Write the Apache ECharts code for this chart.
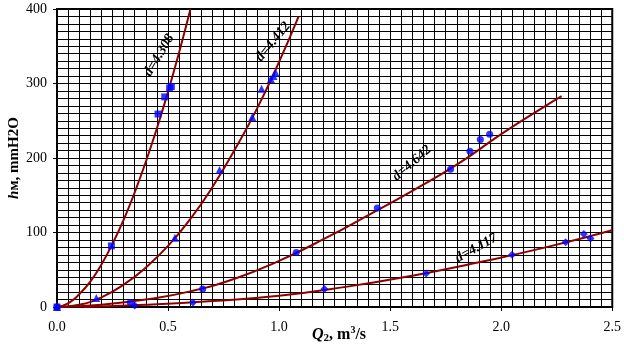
<!DOCTYPE html>
<html>
<head>
<meta charset="utf-8">
<script src="https://cdn.jsdelivr.net/npm/echarts@6/dist/echarts.min.js"></script>
<style>
  html, body { margin: 0; padding: 0; background: #fff; }
  #chart { width: 624px; height: 350px; }
</style>
</head>
<body>
<div id="chart"></div>
<script>
// Measured points (Q2 in m3/s, h in mmH2O) for four diameters
const measured1 = [[0, 0], [0.245, 82], [0.455, 259], [0.485, 282], [0.507, 294], [0.515, 296]];
const measured2 = [[0, 0], [0.177, 12], [0.531, 93], [0.732, 184], [0.879, 255], [0.921, 293], [0.963, 306], [0.975, 310], [0.985, 314]];
const measured3 = [[0, 0], [0.33, 6], [0.656, 24], [1.077, 73], [1.442, 133], [1.772, 185], [1.859, 209], [1.906, 225], [1.948, 232]];
const measured4 = [[0.35, 2], [0.612, 6], [1.204, 24], [1.662, 45], [2.049, 70], [2.29, 87], [2.372, 98], [2.402, 92]];

// Trend curves
const trend1 = [[0, 0], [0.05, 5], [0.1, 17], [0.15, 34], [0.2, 57], [0.25, 85], [0.3, 117], [0.35, 154], [0.4, 195], [0.45, 240], [0.5, 289], [0.55, 342], [0.601, 400]];
const trend2 = [[0, 0], [0.1, 3], [0.2, 13], [0.3, 30], [0.4, 53], [0.5, 82], [0.6, 118], [0.7, 161], [0.8, 211], [0.9, 266], [1.0, 329], [1.088, 390]];
const trend3 = [[0, 0], [0.2, 3], [0.4, 10], [0.6, 21], [0.8, 38], [1.0, 62], [1.2, 91], [1.4, 123], [1.6, 156], [1.8, 191], [2.0, 232], [2.2, 270], [2.272, 283]];
const trend4 = [[0.12, 0], [0.4, 3], [0.7, 8], [1.0, 15], [1.3, 27], [1.6, 42], [1.9, 60], [2.2, 80], [2.5, 103]];

const curveNames = ['d=4.308', 'd=4.412', 'd=4.642', 'd=4.117'];
// label anchor in data coords and text angle in degrees
const curveLabelPos = [[0.46, 338], [0.973, 356], [1.598, 193], [1.888, 79]];
const curveLabelAngle = [59, 51, 41, 29];

const xTicks = ['0.0', '0.5', '1.0', '1.5', '2.0', '2.5'];

const serif = '"Liberation Serif", "DejaVu Serif", serif';
const lineColor = '#8B0000';
const markColor = '#0000FF';

const chart = echarts.init(document.getElementById('chart'), null, { renderer: 'canvas' });

function trendSeries(data) {
  return {
    type: 'line', data: data, smooth: true, showSymbol: false, symbol: 'none',
    lineStyle: { color: lineColor, width: 2 }, z: 3, silent: true
  };
}
function markSeries(data, symbol, size) {
  return {
    type: 'scatter', data: data, symbol: symbol, symbolSize: size,
    itemStyle: { color: markColor }, z: 4, silent: true
  };
}

chart.setOption({
  animation: false,
  backgroundColor: '#fff',
  grid: {
    left: 57, right: 8, top: 9, bottom: 43,
    show: true, borderColor: '#000', borderWidth: 2, backgroundColor: 'transparent'
  },
  xAxis: {
    type: 'value', min: 0, max: 2.5, interval: 0.5,
    axisLine: { show: true, lineStyle: { color: '#000', width: 2 } },
    axisTick: { show: true, length: 4, inside: false, lineStyle: { color: '#000' } },
    axisLabel: {
      color: '#000', fontFamily: serif, fontSize: 14, margin: 13,
      formatter: function (v) { return xTicks[Math.round(v / 0.5)]; }
    },
    splitLine: { show: true, lineStyle: { color: '#000', width: 1 } },
    minorTick: { show: false, splitNumber: 10 },
    minorSplitLine: { show: true, lineStyle: { color: '#000', width: 1 } }
  },
  yAxis: {
    type: 'value', min: 0, max: 400, interval: 100,
    axisLine: { show: true, lineStyle: { color: '#000', width: 2 } },
    axisTick: { show: true, length: 4, inside: false, lineStyle: { color: '#000' } },
    axisLabel: { color: '#000', fontFamily: serif, fontSize: 14, margin: 10 },
    splitLine: { show: true, lineStyle: { color: '#000', width: 1 } },
    minorTick: { show: false, splitNumber: 10 },
    minorSplitLine: { show: true, lineStyle: { color: '#000', width: 1 } }
  },
  series: [
    trendSeries(trend1), trendSeries(trend2), trendSeries(trend3), trendSeries(trend4),
    markSeries(measured1, 'rect', 7),
    markSeries(measured2, 'triangle', 8),
    markSeries(measured3, 'circle', 7),
    markSeries(measured4, 'diamond', 8)
  ]
});

// Axis titles and rotated curve labels
const graphics = [
  {
    type: 'text', x: 312, y: 325, z: 10,
    style: {
      text: '{q|Q}{s|2}{n|, m}{p|3}{n|/s}',
      rich: {
        q: { fontFamily: serif, fontSize: 16, fontWeight: 'bold', fontStyle: 'italic', fill: '#000' },
        s: { fontFamily: serif, fontSize: 11, fontWeight: 'bold', fill: '#000', padding: [8, 0, 0, 0] },
        n: { fontFamily: serif, fontSize: 16, fontWeight: 'bold', fill: '#000' },
        p: { fontFamily: serif, fontSize: 10, fontWeight: 'bold', fill: '#000', padding: [0, 0, 8, 0] }
      }
    }
  },
  {
    type: 'text', x: 14, y: 158, rotation: Math.PI / 2, z: 10,
    style: {
      text: '{h|h}{n|м, mmH2O}',
      align: 'center', verticalAlign: 'middle',
      rich: {
        h: { fontFamily: serif, fontSize: 15, fontWeight: 'bold', fontStyle: 'italic', fill: '#000' },
        n: { fontFamily: serif, fontSize: 15, fontWeight: 'bold', fill: '#000' }
      }
    }
  }
];
curveNames.forEach(function (name, i) {
  const p = chart.convertToPixel({ gridIndex: 0 }, curveLabelPos[i]);
  graphics.push({
    type: 'text', x: p[0], y: p[1], rotation: curveLabelAngle[i] * Math.PI / 180, z: 10,
    style: {
      text: name, align: 'center', verticalAlign: 'middle',
      fontFamily: serif, fontSize: 14, fontWeight: 'bold', fontStyle: 'italic', fill: '#000'
    }
  });
});
chart.setOption({ graphic: graphics });
</script>
</body>
</html>
